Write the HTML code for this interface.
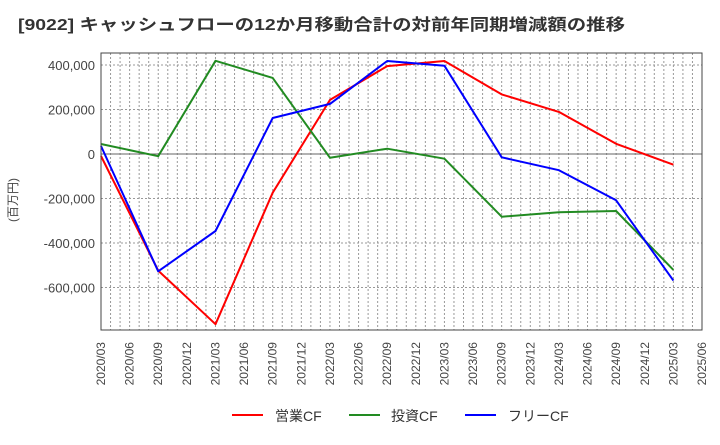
<!DOCTYPE html>
<html><head><meta charset="utf-8">
<style>
html,body{margin:0;padding:0;background:#fff;}
body{width:720px;height:440px;overflow:hidden;font-family:"Liberation Sans","Noto Sans CJK JP",sans-serif;}
</style></head>
<body>
<svg id="chart" width="720" height="440" xmlns="http://www.w3.org/2000/svg" font-family="'Liberation Sans','Noto Sans CJK JP',sans-serif">
<text x="18" y="30" font-size="16" font-weight="bold" fill="#333" textLength="607" lengthAdjust="spacingAndGlyphs">[9022]  キャッシュフローの12か月移動合計の対前年同期増減額の推移</text>
<text transform="translate(17,200) rotate(-90)" text-anchor="middle" font-size="12" fill="#444">(百万円)</text>
<g id="grid"></g>
<g id="yticks"></g>
<g id="xticks"></g>
<g id="series"></g>
<rect x="101" y="53" width="601" height="277" fill="none" stroke="#444" stroke-width="1"/>
<g>
<line x1="232" y1="415" x2="263" y2="415" stroke="#ff0000" stroke-width="2"/>
<text x="275" y="421" font-size="14" fill="#333">営業CF</text>
<line x1="349" y1="415" x2="380" y2="415" stroke="#228b22" stroke-width="2"/>
<text x="391" y="421" font-size="14" fill="#333">投資CF</text>
<line x1="465" y1="415" x2="496" y2="415" stroke="#0000ff" stroke-width="2"/>
<text x="508" y="421" font-size="14" fill="#333">フリーCF</text>
</g>
</svg>
<script>
const categories=["2020/03","2020/09","2021/03","2021/09","2022/03","2022/09","2023/03","2023/09","2024/03","2024/09","2025/03"];
const xTickLabels=["2020/03","2020/06","2020/09","2020/12","2021/03","2021/06","2021/09","2021/12","2022/03","2022/06","2022/09","2022/12","2023/03","2023/06","2023/09","2023/12","2024/03","2024/06","2024/09","2024/12","2025/03","2025/06"];
const eigyoCF=[-9000,-524000,-765000,-174000,243000,395000,418000,268000,189000,46000,-48000];
const toushiCF=[45000,-10000,419000,342000,-17000,24000,-21000,-282000,-262000,-256000,-521000];
const freeCF=[36000,-527000,-346000,162000,225000,418000,397000,-15000,-73000,-208000,-569000];
const yTicks=[400000,200000,0,-200000,-400000,-600000];
const yTickLabels=["400,000","200,000","0","-200,000","-400,000","-600,000"];

const NS="http://www.w3.org/2000/svg";
const L=101,R=702,T=53,B=330;
const y0=154,pxPer=44.5/200000;
function yScale(v){return y0-v*pxPer;}
function monthIdx(lbl){const p=lbl.split("/");return (+p[0]-2020)*12+(+p[1]-3);}
const maxM=monthIdx(xTickLabels[xTickLabels.length-1]);
function xScale(lbl){return L+monthIdx(lbl)/maxM*(R-L);}
function mk(tag,attrs,parent){const e=document.createElementNS(NS,tag);for(const k in attrs)e.setAttribute(k,attrs[k]);parent.appendChild(e);return e;}

const grid=document.getElementById("grid");
for(let m=1;m<maxM;m++){
  const x=L+m/maxM*(R-L);
  const ln=mk("line",{x1:x,y1:T,x2:x,y2:B,stroke:"#999","stroke-width":1,"stroke-dasharray":"2,2"},grid);
  
  
}
const yg=document.getElementById("yticks");
yTicks.forEach((v,i)=>{
  const y=yScale(v);
  const ln=mk("line",{x1:L,y1:y,x2:R,y2:y,stroke:v===0?"#666":"#999","stroke-width":1,"stroke-dasharray":v===0?"none":"2,2"},grid);
  
  
  const t=mk("text",{x:L-6,y:y+5,"text-anchor":"end","font-size":13,fill:"#444"},yg);
  t.textContent=yTickLabels[i];
  
  
});
const xg=document.getElementById("xticks");
xTickLabels.forEach(lbl=>{
  const x=xScale(lbl);
  const t=mk("text",{transform:`translate(${x+4},342) rotate(-90)`,"text-anchor":"end","font-size":12,fill:"#444"},xg);
  t.textContent=lbl;
  
  
});
const sg=document.getElementById("series");
[[eigyoCF,"#ff0000","operating-cf-line"],[toushiCF,"#228b22","investing-cf-line"],[freeCF,"#0000ff","free-cf-line"]].forEach(([vals,col,name])=>{
  const pts=vals.map((v,i)=>xScale(categories[i]).toFixed(1)+","+yScale(v).toFixed(1)).join(" ");
  const p=mk("polyline",{points:pts,fill:"none",stroke:col,"stroke-width":2,"stroke-linejoin":"round"},sg);
  
  
});
</script>
</body></html>
